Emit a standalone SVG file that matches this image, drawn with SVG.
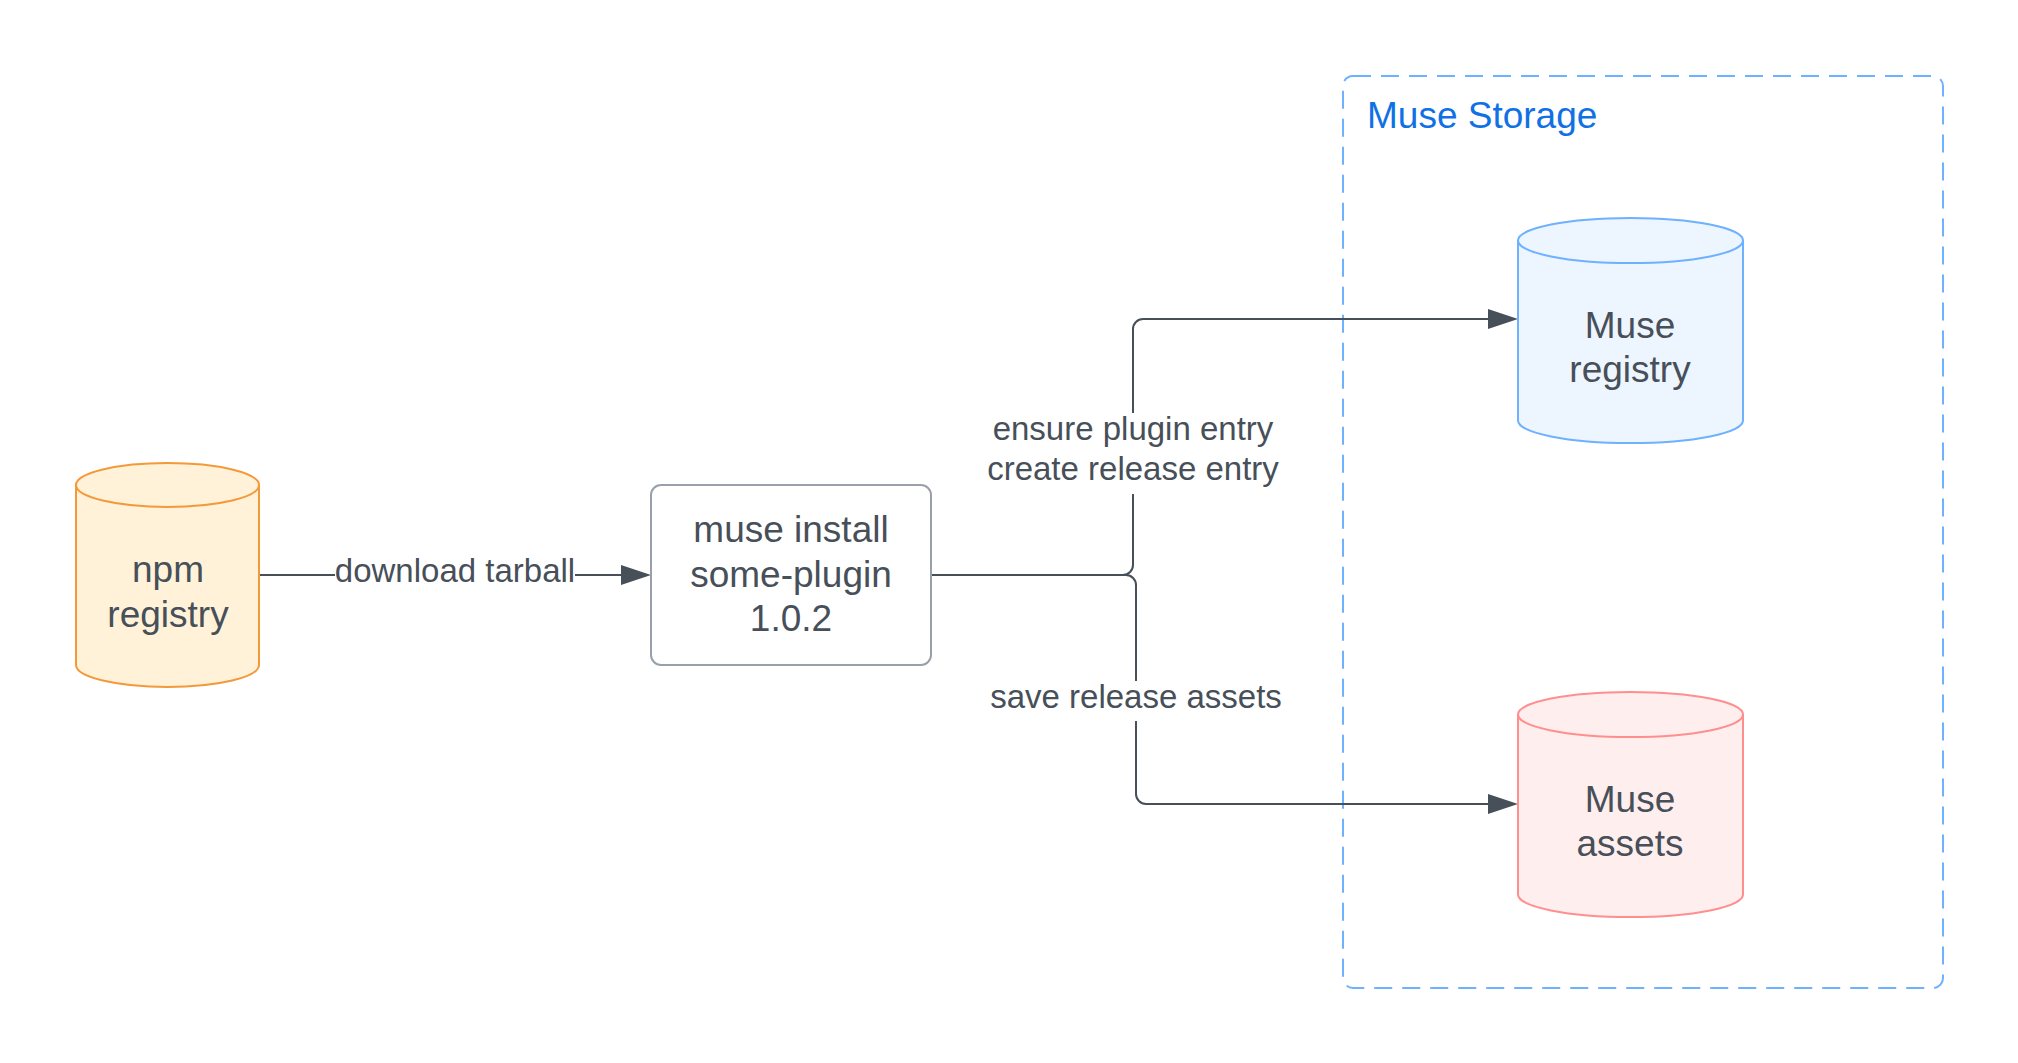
<svg xmlns="http://www.w3.org/2000/svg" width="2018" height="1063" viewBox="0 0 2018 1063">
<style>
text{font-family:"Liberation Sans",Arial,sans-serif;fill:#474f59;text-anchor:middle}
.node{font-size:37px}
.lbl{font-size:33px}
.conn{fill:none;stroke:#474f59;stroke-width:2}
.cyl{stroke-width:2}
</style>
<defs>
<marker id="arr" viewBox="0 0 30 20" refX="0" refY="10" markerWidth="30" markerHeight="20" markerUnits="userSpaceOnUse" orient="auto">
<path d="M0,0 L30,10 L0,20 Z" fill="#474f59"/>
</marker>
</defs>
<rect width="2018" height="1063" fill="#ffffff"/>
<g id="muse-storage">
<rect x="1343" y="76" width="600" height="912" rx="10" fill="none" stroke="#6db1ff" stroke-width="2" stroke-dasharray="18 10"/>
<text x="1367" y="128" style="font-size:37px;fill:#1071e5;text-anchor:start">Muse Storage</text>
</g>
<g id="connectors">
<path class="conn" d="M259,575 H335"/>
<path class="conn" d="M575,575 H621" marker-end="url(#arr)"/>
<text class="lbl" x="455" y="582">download tarball</text>
<path class="conn" d="M931,575 H1123 A10,10 0 0 0 1133,565 V494"/>
<path class="conn" d="M1133,413 V329 A10,10 0 0 1 1143,319 H1488" marker-end="url(#arr)"/>
<text class="lbl" x="1133" y="440">ensure plugin entry</text>
<text class="lbl" x="1133" y="480">create release entry</text>
<path class="conn" d="M1123,575 H1126 A10,10 0 0 1 1136,585 V681"/>
<path class="conn" d="M1136,721 V794 A10,10 0 0 0 1146,804 H1488" marker-end="url(#arr)"/>
<text class="lbl" x="1136" y="708">save release assets</text>
</g>
<g id="npm-registry">
<path class="cyl" d="M76,485 A91.5,22 0 0 1 259,485 V665 A91.5,22 0 0 1 76,665 Z" fill="#fff2d8" stroke="#f4993a"/>
<path class="cyl" d="M76,485 A91.5,22 0 0 0 259,485" fill="none" stroke="#f4993a"/>
<text class="node" x="168" y="582">npm</text>
<text class="node" x="168" y="627">registry</text>
</g>
<g id="muse-install">
<rect x="651" y="485" width="280" height="180" rx="10" fill="#ffffff" stroke="#9aa0a9" stroke-width="2"/>
<text class="node" x="791" y="542">muse install</text>
<text class="node" x="791" y="587">some-plugin</text>
<text class="node" x="791" y="631">1.0.2</text>
</g>
<g id="muse-registry">
<path class="cyl" d="M1518,240.5 A112.5,22.5 0 0 1 1743,240.5 V420.5 A112.5,22.5 0 0 1 1518,420.5 Z" fill="#edf5ff" stroke="#6db1ff"/>
<path class="cyl" d="M1518,240.5 A112.5,22.5 0 0 0 1743,240.5" fill="none" stroke="#6db1ff"/>
<text class="node" x="1630" y="338">Muse</text>
<text class="node" x="1630" y="382">registry</text>
</g>
<g id="muse-assets">
<path class="cyl" d="M1518,714.5 A112.5,22.5 0 0 1 1743,714.5 V894.5 A112.5,22.5 0 0 1 1518,894.5 Z" fill="#ffeeee" stroke="#ff8f8f"/>
<path class="cyl" d="M1518,714.5 A112.5,22.5 0 0 0 1743,714.5" fill="none" stroke="#ff8f8f"/>
<text class="node" x="1630" y="812">Muse</text>
<text class="node" x="1630" y="856">assets</text>
</g>
</svg>
